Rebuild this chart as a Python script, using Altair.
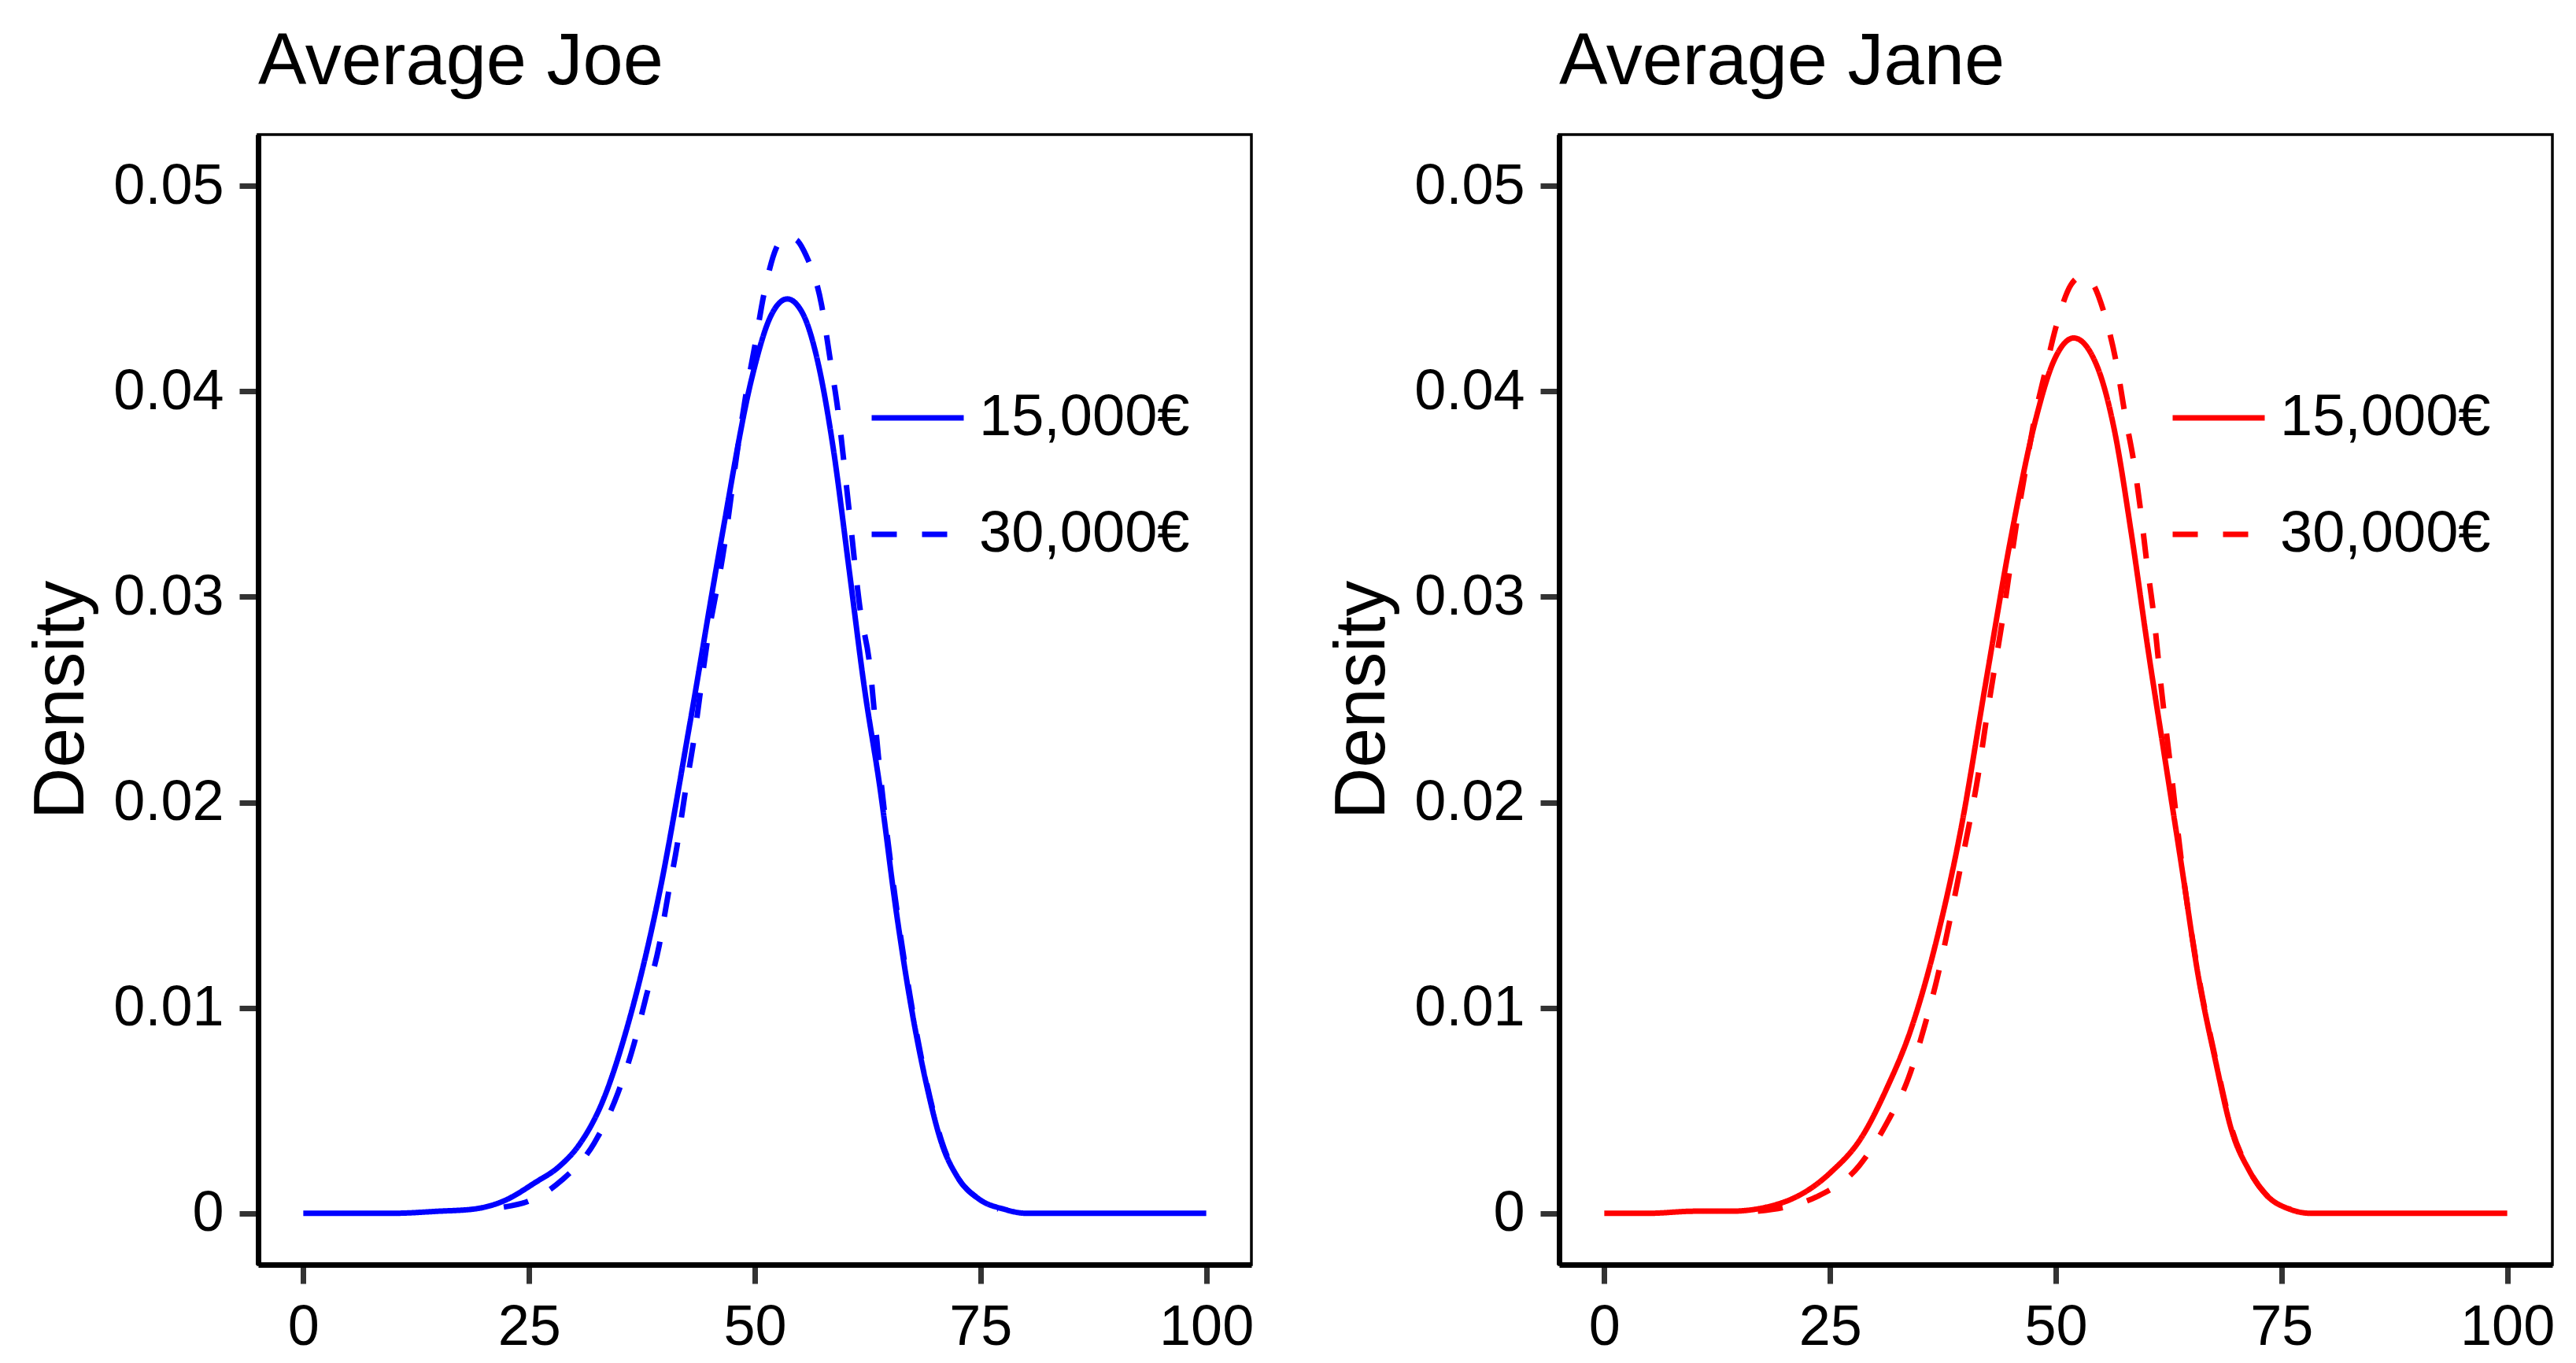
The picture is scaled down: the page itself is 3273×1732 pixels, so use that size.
import altair as alt
import pandas as pd

groups = ["15,000€", "30,000€"]

# Average Joe, 15,000€ (solid)
joe_low_x = [0, 5, 10, 15, 18.8, 22.2, 25.7, 28.4, 30.5, 33.2, 35.9, 39.4, 42.8, 46.3, 49.7,
             51.7, 53.6, 55.3, 57.0, 58.7, 60.4, 62.1, 63.9, 65.6, 67.3, 69.0, 70.7, 72.4,
             74.8, 77.6, 80, 85, 90, 95, 100]
joe_low_y = [0, 0, 0, 0.0001, 0.0002, 0.0006, 0.0015, 0.0023, 0.0033, 0.0055, 0.0091, 0.0155,
             0.0238, 0.0328, 0.0407, 0.0436, 0.0445, 0.0438, 0.0414, 0.0372, 0.0315, 0.0257,
             0.0206, 0.0149, 0.0101, 0.0063, 0.0034, 0.0018, 0.0007, 0.0002, 0, 0, 0, 0, 0]

# Average Joe, 30,000€ (dashed)
joe_high_x = [22.2, 25, 28.6, 32.2, 34.8, 36.6, 38.0, 39.4, 40.4, 41.4, 42.3, 43.2, 44.7, 46.6,
              48.0, 49.0, 50.0, 51.0, 52.4, 53.3, 54.5, 55.7, 57.4, 58.3, 59.2, 60.4, 61.7,
              62.7, 63.7, 65.6, 67.3, 69.0, 70.7, 72.4, 74.8, 77]
joe_high_y = [0.0003, 0.0006, 0.0016, 0.0034, 0.0058, 0.0082, 0.0106, 0.0130, 0.0155, 0.0179,
              0.0205, 0.0229, 0.0277, 0.0324, 0.0369, 0.0398, 0.0422, 0.0447, 0.0470, 0.0475,
              0.0474, 0.0466, 0.0442, 0.0417, 0.0391, 0.0344, 0.0293, 0.0268, 0.0222, 0.0152,
              0.0103, 0.0064, 0.0035, 0.0018, 0.0007, 0.0002]

# Average Jane, 15,000€ (solid)
jane_low_x = [0, 5, 10, 14, 19.6, 25.1, 28.5, 31.2, 34.0, 36.8, 39.5, 42.2, 45.0, 47.7, 49.8,
              52.0, 54.6, 56.5, 58.4, 60.2, 62.1, 63.9, 65.8, 67.7, 69.5, 71.4, 73.3, 75.9,
              78.2, 85, 90, 95, 100]
jane_low_y = [0, 0, 0.0001, 0.0001, 0.0005, 0.0020, 0.0037, 0.0060, 0.0090, 0.0133, 0.0187,
              0.0257, 0.0328, 0.0385, 0.0415, 0.0426, 0.0412, 0.0381, 0.0330, 0.0275, 0.0221,
              0.0170, 0.0115, 0.0074, 0.0040, 0.0021, 0.0009, 0.0002, 0, 0, 0, 0, 0]

# Average Jane, 30,000€ (dashed)
jane_high_x = [17, 20, 23.5, 28.2, 31.3, 33.7, 35.4, 36.9, 38.1, 39.3, 40.4, 41.4, 42.2, 43.1,
               44.0, 44.8, 45.7, 46.7, 47.7, 48.8, 50.0, 51.7, 52.9, 54.0, 55.3, 56.7, 57.7,
               58.7, 59.4, 60.1, 60.8, 61.7, 62.8, 63.9, 65.8, 67.7, 69.5, 71.4, 73.3, 76]
jane_high_y = [0.0001, 0.0003, 0.0008, 0.0023, 0.0044, 0.0066, 0.0090, 0.0115, 0.0139, 0.0165,
               0.0189, 0.0213, 0.0237, 0.0262, 0.0286, 0.0310, 0.0337, 0.0363, 0.0388, 0.0409,
               0.0431, 0.0452, 0.0456, 0.0453, 0.0439, 0.0414, 0.0388, 0.0364, 0.0342, 0.0316,
               0.0293, 0.0255, 0.0214, 0.0172, 0.0116, 0.0075, 0.0041, 0.0021, 0.0009, 0.0002]

x_ticks = [0, 25, 50, 75, 100]
y_ticks = [0, 0.01, 0.02, 0.03, 0.04, 0.05]

FONT = "Liberation Sans"


def panel(name, color, low_x, low_y, high_x, high_y):
    df = pd.concat([
        pd.DataFrame({"income": groups[0], "x": low_x, "density": low_y}),
        pd.DataFrame({"income": groups[1], "x": high_x, "density": high_y}),
    ])
    return alt.Chart(df).mark_line(
        color=color, strokeWidth=7, interpolate="monotone"
    ).encode(
        alt.X("x:Q", scale=alt.Scale(domain=[-5, 105], nice=False, zero=False),
              axis=alt.Axis(values=x_ticks, title=None)),
        alt.Y("density:Q", scale=alt.Scale(domain=[-0.0025, 0.0525], nice=False, zero=False),
              axis=alt.Axis(values=y_ticks, title="Density",
                            labelExpr="datum.value == 0 ? '0' : format(datum.value, '.2f')")),
        alt.StrokeDash("income:N",
                       scale=alt.Scale(domain=groups, range=[[1, 0], [32, 32]]),
                       legend=alt.Legend(orient="none", legendX=776, legendY=298,
                                         title=None, labelFontSize=74, labelFont=FONT,
                                         labelColor="black", labelOffset=16, labelLimit=0,
                                         symbolType="stroke", symbolSize=13689,
                                         symbolStrokeWidth=7, symbolStrokeColor=color,
                                         rowPadding=49, padding=0)),
        order="x:Q",
    ).properties(
        width=1262,
        height=1436,
        title=alt.TitleParams(name, anchor="start", frame="group", fontSize=92, font=FONT,
                              fontWeight="normal", color="black", offset=45),
    )


joe = panel("Average Joe", "#0000FF", joe_low_x, joe_low_y, joe_high_x, joe_high_y)
jane = panel("Average Jane", "#FF0000", jane_low_x, jane_low_y, jane_high_x, jane_high_y)

chart = alt.hconcat(joe, jane, spacing=89).resolve_scale(
    strokeDash="independent"
).resolve_legend(
    strokeDash="independent"
).configure_view(
    stroke="black", strokeWidth=3.5
).configure_axis(
    grid=False,
    domainColor="black", domainWidth=7,
    tickColor="#333333", tickWidth=7, tickSize=24,
    labelFont=FONT, labelFontSize=72, labelColor="black", labelPadding=20,
    titleFont=FONT, titleFontSize=91, titleFontWeight="normal", titleColor="black",
    titlePadding=19,
).properties(
    background="white",
    padding={"left": 23, "top": 23, "right": 5, "bottom": 5},
)

chart.save("out.html", embed_options={"renderer": "svg", "actions": False})
